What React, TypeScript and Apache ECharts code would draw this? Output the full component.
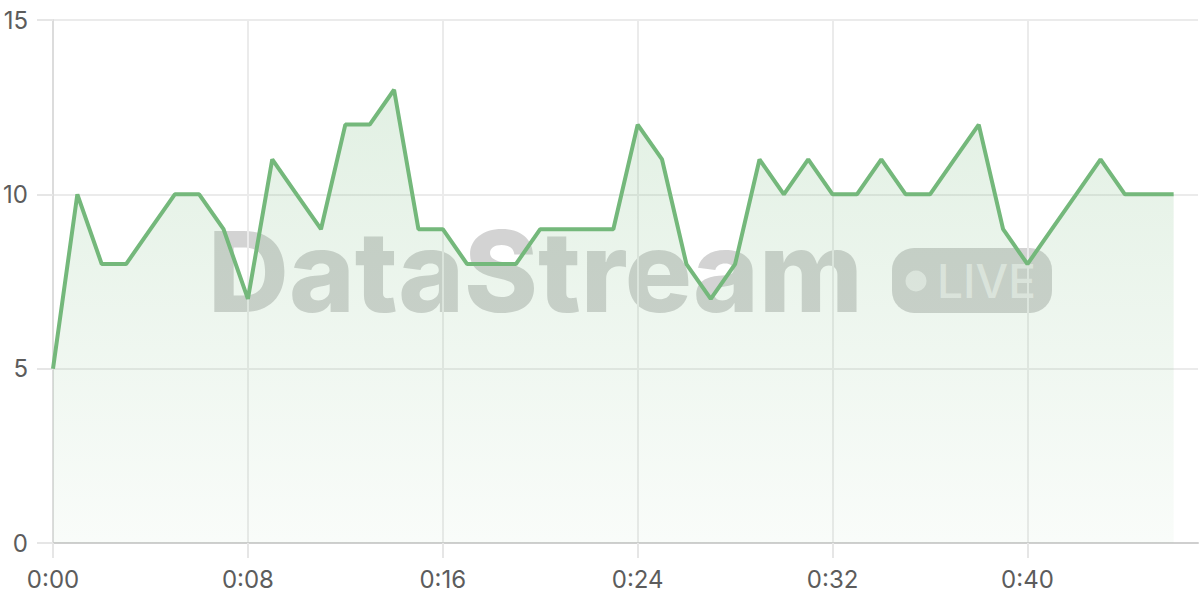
import React, { useEffect, useRef } from 'react';
import * as echarts from 'echarts';

// minutes since start (one extra slot at the end so the axis runs past the last point)
const times = [
    '0:00', '0:01', '0:02', '0:03', '0:04', '0:05', '0:06', '0:07',
    '0:08', '0:09', '0:10', '0:11', '0:12', '0:13', '0:14', '0:15',
    '0:16', '0:17', '0:18', '0:19', '0:20', '0:21', '0:22', '0:23',
    '0:24', '0:25', '0:26', '0:27', '0:28', '0:29', '0:30', '0:31',
    '0:32', '0:33', '0:34', '0:35', '0:36', '0:37', '0:38', '0:39',
    '0:40', '0:41', '0:42', '0:43', '0:44', '0:45', '0:46', '0:47',
];

const values = [
    5, 10, 8, 8, 9, 10, 10, 9, 7, 11, 10, 9, 12, 12, 13, 9,
    9, 8, 8, 8, 9, 9, 9, 9, 12, 11, 8, 7, 8, 11, 10, 11,
    10, 10, 11, 10, 10, 11, 12, 9, 8, 9, 10, 11, 10, 10, 10,
];

const brand = 'DataStream';
const badge = 'LIVE';

const LINE = '#74b87b';
const LABEL = '#5c5c5c';

const App: React.FC = () => {
    const chartRef = useRef<HTMLDivElement>(null);

    useEffect(() => {
        if (!chartRef.current) return;
        const chart = echarts.init(chartRef.current, undefined, { renderer: 'svg' });

        const option = {
            animation: false,
            backgroundColor: '#ffffff',
            textStyle: { fontFamily: 'Inter' },
            grid: { left: 53, right: 2, top: 20, bottom: 57 },
            xAxis: {
                type: 'category',
                data: times,
                boundaryGap: false,
                axisLine: { lineStyle: { color: '#cfcfcf', width: 2 } },
                axisTick: {
                    interval: 7,
                    length: 15,
                    lineStyle: { color: '#e6e6e6', width: 2 },
                },
                axisLabel: {
                    interval: 7,
                    color: LABEL,
                    fontSize: 24,
                    margin: 24,
                    fontFamily: 'Inter',
                },
                splitLine: {
                    show: true,
                    interval: 7,
                    lineStyle: { color: '#ebebeb', width: 2 },
                },
            },
            yAxis: {
                type: 'value',
                min: 0,
                max: 15,
                interval: 5,
                axisLine: { show: true, lineStyle: { color: '#dcdcdc', width: 2 } },
                axisTick: { show: true, length: 16, lineStyle: { color: '#e6e6e6', width: 2 } },
                axisLabel: { color: LABEL, fontSize: 24, margin: 25, fontFamily: 'Inter' },
                splitLine: { lineStyle: { color: '#ebebeb', width: 2 } },
            },
            graphic: [
                {
                    type: 'group',
                    z: 3,
                    children: [
                        {
                            type: 'text',
                            x: 208,
                            y: 327,
                            style: {
                                text: brand,
                                fill: 'rgba(110,110,110,0.3)',
                                font: '800 112px Inter',
                                verticalAlign: 'bottom',
                            },
                        },
                        {
                            type: 'rect',
                            shape: { x: 892, y: 248, width: 160, height: 65, r: 22 },
                            style: { fill: 'rgba(110,110,110,0.3)' },
                        },
                        {
                            type: 'circle',
                            shape: { cx: 916, cy: 281, r: 10.5 },
                            style: { fill: 'rgba(255,255,255,0.55)' },
                        },
                        {
                            type: 'text',
                            x: 937,
                            y: 281,
                            style: {
                                text: badge,
                                fill: 'rgba(255,255,255,0.55)',
                                font: '500 46px Inter',
                                verticalAlign: 'middle',
                            },
                        },
                    ],
                },
            ],
            series: [
                {
                    type: 'line',
                    data: values,
                    symbol: 'none',
                    z: 2,
                    lineStyle: { color: LINE, width: 4 },
                    areaStyle: {
                        color: new echarts.graphic.LinearGradient(0, 0, 0, 1, [
                            { offset: 0, color: 'rgba(116,184,123,0.3)' },
                            { offset: 1, color: 'rgba(116,184,123,0.06)' },
                        ]),
                    },
                },
            ],
        };

        chart.setOption(option);
        return () => {
            chart.dispose();
        };
    }, []);

    return (
        <div
            ref={chartRef}
            style={{ position: 'fixed', left: 0, top: 0, width: '1200px', height: '600px' }}
        />
    );
};

export default App;
